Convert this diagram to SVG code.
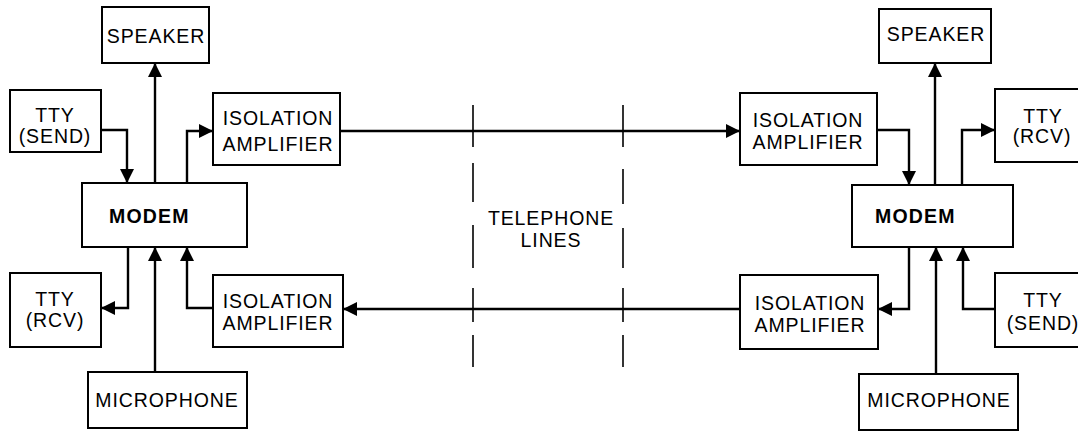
<svg xmlns="http://www.w3.org/2000/svg" width="1078" height="431" viewBox="0 0 1078 431">
<defs>
<style>
.box{fill:#fff;stroke:#000;stroke-width:2}
.t{font-family:"Liberation Sans",Arial,sans-serif;font-size:19.5px;letter-spacing:0.9px;text-anchor:middle;fill:#000}
.b{font-family:"Liberation Sans",Arial,sans-serif;font-size:19.5px;font-weight:bold;letter-spacing:1.2px;fill:#000}
.c{fill:none;stroke:#000;stroke-width:2.4}
.d{stroke:#000;stroke-width:1.6}
</style>
<marker id="ah" viewBox="0 0 14 14" refX="14" refY="7" markerWidth="14" markerHeight="14" markerUnits="userSpaceOnUse" orient="auto">
<path d="M0,0 L14,7 L0,14 z" fill="#000"/>
</marker>
</defs>
<rect width="1078" height="431" fill="#fff"/>
<g id="connectors">
<path class="c" d="M340,131 H740" marker-end="url(#ah)"/>
<path class="c" d="M740,309 H343" marker-end="url(#ah)"/>
<path class="c" d="M155,183 V63" marker-end="url(#ah)"/>
<path class="c" d="M101,130 H127 V183" marker-end="url(#ah)"/>
<path class="c" d="M187,183 V131 H213" marker-end="url(#ah)"/>
<path class="c" d="M128,247 V308 H101" marker-end="url(#ah)"/>
<path class="c" d="M155,372 V247" marker-end="url(#ah)"/>
<path class="c" d="M213,308 H187 V247" marker-end="url(#ah)"/>
<path class="c" d="M877,130 H909 V185" marker-end="url(#ah)"/>
<path class="c" d="M935,185 V63" marker-end="url(#ah)"/>
<path class="c" d="M962,185 V130 H995" marker-end="url(#ah)"/>
<path class="c" d="M909,247 V309 H878" marker-end="url(#ah)"/>
<path class="c" d="M936,374 V247" marker-end="url(#ah)"/>
<path class="c" d="M995,309 H963 V247" marker-end="url(#ah)"/>
<g id="telephone-dashes">
<line class="d" x1="473" y1="105" x2="473" y2="147"/>
<line class="d" x1="473" y1="163" x2="473" y2="202"/>
<line class="d" x1="473" y1="225" x2="473" y2="268"/>
<line class="d" x1="473" y1="288" x2="473" y2="322"/>
<line class="d" x1="473" y1="335" x2="473" y2="367"/>
<line class="d" x1="623" y1="105" x2="623" y2="147"/>
<line class="d" x1="623" y1="169" x2="623" y2="204"/>
<line class="d" x1="623" y1="228" x2="623" y2="268"/>
<line class="d" x1="623" y1="288" x2="623" y2="322"/>
<line class="d" x1="623" y1="335" x2="623" y2="367"/>
</g>
</g>
<g id="speaker-l"><rect class="box" x="102" y="7" width="107" height="56"/><text class="t" x="156" y="43">SPEAKER</text></g>
<g id="tty-send-l"><rect class="box" x="10" y="90" width="91" height="62"/><text class="t" x="55" y="122">TTY</text><text class="t" x="55" y="143">(SEND)</text></g>
<g id="iso-amp-tl"><rect class="box" x="213" y="93" width="127" height="72"/><text class="t" x="278" y="125">ISOLATION</text><text class="t" x="278" y="151">AMPLIFIER</text></g>
<g id="modem-l"><rect class="box" x="82" y="183" width="165" height="64"/><text class="b" x="109" y="223">MODEM</text></g>
<g id="tty-rcv-l"><rect class="box" x="10" y="273" width="91" height="74"/><text class="t" x="55" y="306">TTY</text><text class="t" x="55" y="327">(RCV)</text></g>
<g id="iso-amp-bl"><rect class="box" x="213" y="275" width="130" height="72"/><text class="t" x="278" y="308">ISOLATION</text><text class="t" x="278" y="330">AMPLIFIER</text></g>
<g id="microphone-l"><rect class="box" x="88" y="372" width="159" height="56"/><text class="t" x="167" y="407">MICROPHONE</text></g>
<g id="telephone-lines"><text class="t" x="551" y="225">TELEPHONE</text><text class="t" x="551" y="247">LINES</text></g>
<g id="speaker-r"><rect class="box" x="879" y="9" width="112" height="54"/><text class="t" x="936" y="41">SPEAKER</text></g>
<g id="iso-amp-tr"><rect class="box" x="740" y="93" width="137" height="72"/><text class="t" x="808" y="127">ISOLATION</text><text class="t" x="808" y="149">AMPLIFIER</text></g>
<g id="tty-rcv-r"><rect class="box" x="995" y="89" width="90" height="73"/><text class="t" x="1043" y="123">TTY</text><text class="t" x="1042" y="143">(RCV)</text></g>
<g id="modem-r"><rect class="box" x="852" y="185" width="161" height="62"/><text class="b" x="875" y="223">MODEM</text></g>
<g id="iso-amp-br"><rect class="box" x="740" y="275" width="138" height="74"/><text class="t" x="810" y="310">ISOLATION</text><text class="t" x="810" y="332">AMPLIFIER</text></g>
<g id="tty-send-r"><rect class="box" x="995" y="273" width="90" height="74"/><text class="t" x="1043" y="307">TTY</text><text class="t" x="1043" y="330">(SEND)</text></g>
<g id="microphone-r"><rect class="box" x="859" y="374" width="159" height="56"/><text class="t" x="939" y="407">MICROPHONE</text></g>
</svg>
